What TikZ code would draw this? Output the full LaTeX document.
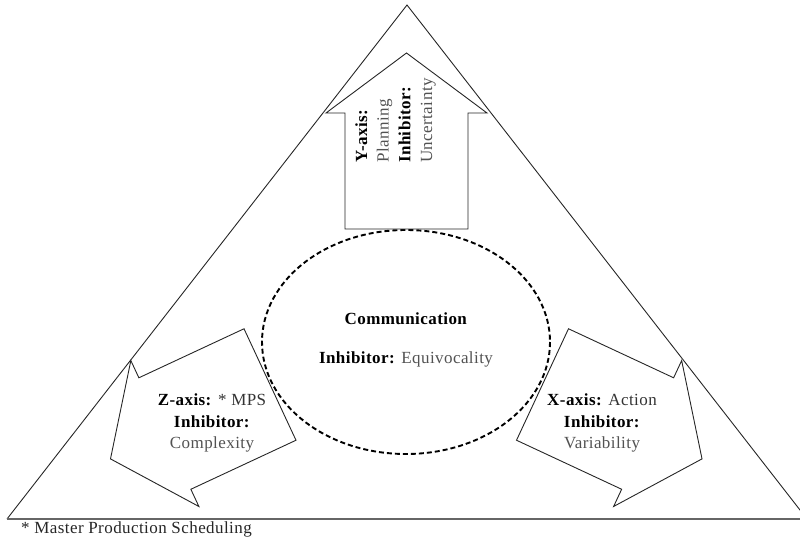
\documentclass[tikz,border=0pt]{standalone}
\usepackage{fontspec}
\setmainfont[LetterSpace=2.5]{Liberation Serif}
\begin{document}
\begin{tikzpicture}[x=1pt,y=-1pt,
  outline/.style={draw=black!85, line width=0.9pt, line join=miter},
  label/.style={inner sep=0pt, align=center,
    font=\fontsize{17}{21.7}\selectfont},
  blockarrow/.pic={
    \draw[outline] (-61.5,0) -- (-61.5,-116) -- (-80.5,-116) -- (0,-176)
      -- (80.5,-116) -- (61.5,-116) -- (61.5,0) -- cycle;
  }]
  \useasboundingbox (0,0) rectangle (800,538);
  \clip (0,0) rectangle (800,538);

  % outer triangle and its base line
  \draw[outline] (7,519) -- (407,5) -- (807,519);
  \draw[draw=black!60, line width=1.8pt] (7,519) -- (800,519);

  % communication ellipse
  \draw[line width=1.9pt, dash pattern=on 5pt off 3pt] (406,342) ellipse [x radius=144, y radius=112];

  % the three axis arrows
  \pic at (406.5,229) {blockarrow};
  \pic[rotate=115] at (270,384.5) {blockarrow};
  \pic[rotate=-115] at (542.5,384.5) {blockarrow};

  % texts
  \node[label, align=left, rotate=90, anchor=west] (yaxis) at (395.5,163)
    {\textbf{Y-axis:}\\ {\color{black!68}Planning}\\ \textbf{Inhibitor:}\\ {\color{black!68}Uncertainty}};
  \node[label] (zaxis) at (212,423)
    {\textbf{Z-axis:} {\color{black!80}* MPS}\\ \textbf{Inhibitor:}\\ {\color{black!68}Complexity}};
  \node[label] (xaxis) at (602,423)
    {\textbf{X-axis:} {\color{black!80}Action}\\ \textbf{Inhibitor:}\\ {\color{black!68}Variability}};
  \node[label] (comm) at (406,319) {\textbf{Communication}};
  \node[label] (equiv) at (406,359) {\textbf{Inhibitor:} {\color{black!68}Equivocality}};
  \node[label, anchor=base west, text=black!85] (note) at (21,533) {* Master Production Scheduling};
\end{tikzpicture}
\end{document}
